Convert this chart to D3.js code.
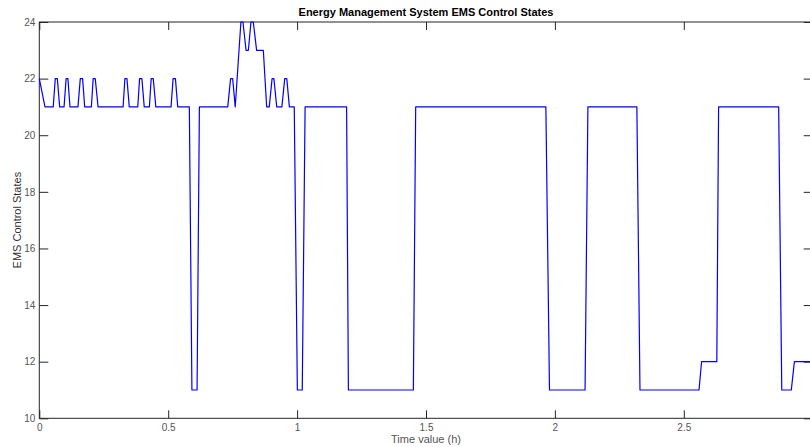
<!DOCTYPE html>
<html>
<head>
<meta charset="utf-8">
<script src="https://cdn.jsdelivr.net/npm/d3@7"></script>
<style>
  body { margin: 0; background: #fff; }
  svg { display: block; font-family: "Liberation Sans", Arial, sans-serif; }
</style>
</head>
<body>
<svg id="chart" width="810" height="447"></svg>
<script>
// time in hours, EMS state at that time (vertices)
var timeH = [0, 0.022, 0.054, 0.062, 0.070, 0.079, 0.096, 0.104, 0.111, 0.119,
  0.150, 0.159, 0.168, 0.176, 0.202, 0.209, 0.217, 0.228, 0.325, 0.332,
  0.340, 0.349, 0.382, 0.389, 0.398, 0.407, 0.427, 0.434, 0.442, 0.452,
  0.511, 0.519, 0.528, 0.537, 0.582, 0.592, 0.612, 0.621, 0.731, 0.742,
  0.750, 0.760, 0.782, 0.790, 0.802, 0.811, 0.821, 0.830, 0.843, 0.869,
  0.882, 0.892, 0.903, 0.910, 0.921, 0.941, 0.952, 0.960, 0.970, 0.989,
  1.001, 1.020, 1.031, 1.192, 1.199, 1.451, 1.460, 1.965, 1.979, 2.117,
  2.128, 2.318, 2.330, 2.559, 2.569, 2.628, 2.635, 2.868, 2.880, 2.917,
  2.929, 3.0];
var emsState = [22, 21, 21, 22, 22, 21, 21, 22, 22, 21,
  21, 22, 22, 21, 21, 22, 22, 21, 21, 22,
  22, 21, 21, 22, 22, 21, 21, 22, 22, 21,
  21, 22, 22, 21, 21, 11, 11, 21, 21, 22,
  22, 21, 24, 24, 23, 23, 24, 24, 23, 23,
  21, 21, 22, 22, 21, 21, 22, 22, 21, 21,
  11, 11, 21, 21, 11, 11, 21, 21, 11, 11,
  21, 21, 11, 11, 12, 12, 21, 21, 11, 11,
  12, 12];
var xTicks = [0, 0.5, 1, 1.5, 2, 2.5, 3];
var yTicks = [10, 12, 14, 16, 18, 20, 22, 24];

var svg = d3.select("#chart");
var plotLeft = 39.3, plotRight = 812.7, plotTop = 22, plotBottom = 418.3;

var x = d3.scaleLinear().domain([0, 3]).range([plotLeft, plotRight]);
var y = d3.scaleLinear().domain([10, 24]).range([plotBottom, plotTop]);

var axisColor = "#262626";
var labelColor = "#555";

function styleAxis(g, showLabels) {
  g.select(".domain").remove();
  g.selectAll(".tick line").attr("stroke", axisColor).attr("stroke-width", 1);
  g.selectAll(".tick text").attr("fill", labelColor).style("font-size", "10px");
  if (!showLabels) g.selectAll(".tick text").remove();
}

svg.append("g")
  .attr("transform", "translate(0," + plotBottom + ")")
  .call(d3.axisBottom(x).tickValues(xTicks).tickSize(-8).tickPadding(6).tickFormat(d3.format("")))
  .call(function (g) { styleAxis(g, true); });

svg.append("g")
  .attr("transform", "translate(0," + plotTop + ")")
  .call(d3.axisTop(x).tickValues(xTicks).tickSize(-8))
  .call(function (g) { styleAxis(g, false); });

svg.append("g")
  .attr("transform", "translate(" + plotLeft + ",0)")
  .call(d3.axisLeft(y).tickValues(yTicks).tickSize(-9).tickPadding(4))
  .call(function (g) { styleAxis(g, true); });

svg.append("g")
  .attr("transform", "translate(" + plotRight + ",0)")
  .call(d3.axisRight(y).tickValues(yTicks).tickSize(-9))
  .call(function (g) { styleAxis(g, false); });

// box
svg.append("rect")
  .attr("x", plotLeft).attr("y", plotTop)
  .attr("width", plotRight - plotLeft).attr("height", plotBottom - plotTop)
  .attr("fill", "none").attr("stroke", axisColor).attr("stroke-width", 1);

var points = timeH.map(function (t, i) { return [t, emsState[i]]; });
var line = d3.line().x(function (d) { return x(d[0]); }).y(function (d) { return y(d[1]); });

svg.append("path")
  .datum(points)
  .attr("d", line)
  .attr("fill", "none")
  .attr("stroke", "#0000ff")
  .attr("stroke-width", 1.2)
  .attr("stroke-linejoin", "round");

svg.append("text")
  .attr("x", (plotLeft + plotRight) / 2).attr("y", 16)
  .attr("text-anchor", "middle")
  .style("font-size", "11px").style("font-weight", "bold")
  .attr("fill", "#000")
  .text("Energy Management System EMS Control States");

svg.append("text")
  .attr("x", (plotLeft + plotRight) / 2).attr("y", 443)
  .attr("text-anchor", "middle")
  .style("font-size", "11px")
  .attr("fill", labelColor)
  .text("Time value (h)");

svg.append("text")
  .attr("transform", "translate(21," + ((plotTop + plotBottom) / 2) + ") rotate(-90)")
  .attr("text-anchor", "middle")
  .style("font-size", "11px")
  .attr("fill", "#333")
  .text("EMS Control States");
</script>
</body>
</html>
